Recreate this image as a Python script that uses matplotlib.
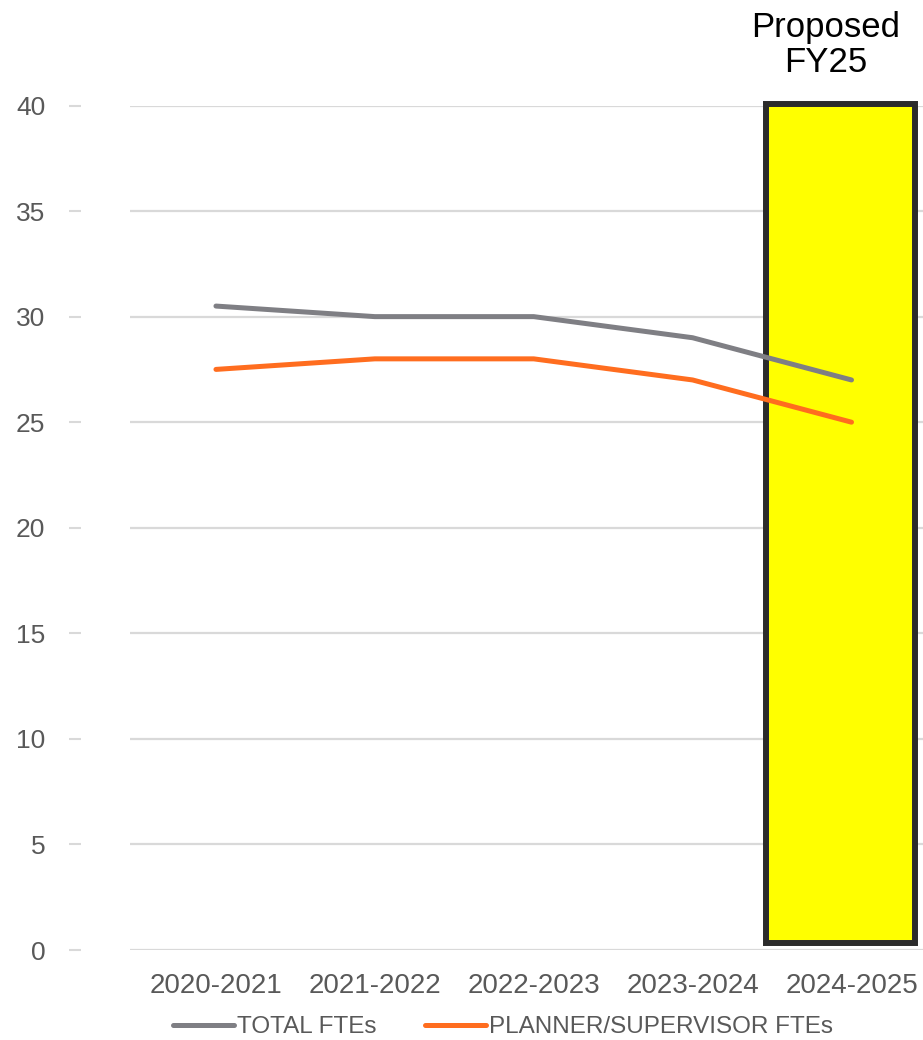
import matplotlib
matplotlib.use('Agg')
import matplotlib.pyplot as plt
from matplotlib.patches import Rectangle

plt.rcParams['font.family'] = ['Liberation Sans', 'DejaVu Sans']

# data
years = ['2020-2021', '2021-2022', '2022-2023', '2023-2024', '2024-2025']
total_ftes = [30.5, 30, 30, 29, 27]
planner_ftes = [27.5, 28, 28, 27, 25]
highlight_year = '2024-2025'
highlight_text = 'Proposed\nFY25'

W, H = 923, 1040
fig = plt.figure(figsize=(W / 100, H / 100), dpi=100)
ax = fig.add_axes([130 / W, 1 - 950 / H, 793 / W, 844.5 / H])

x = list(range(len(years)))
ax.plot(x, total_ftes, color='#7f7f84', lw=3.6, solid_capstyle='round',
        zorder=3, label='TOTAL FTEs')
ax.plot(x, planner_ftes, color='#ff6d1f', lw=3.6, solid_capstyle='round',
        zorder=3, label='PLANNER/SUPERVISOR FTEs')

ax.set_xlim(-0.541, 4.45)
ax.set_ylim(0, 40)
ax.set_xticks(x)
ax.set_xticklabels(years)
ax.set_yticks(range(0, 41, 5))

ax.set_axisbelow(True)
ax.grid(axis='y', color='#d9d9d9', lw=1.6)
for s in ['top', 'right', 'bottom']:
    ax.spines[s].set_visible(False)
# value ticks sit apart from the grid, as in the original
ax.spines['left'].set_position(('outward', 35.3))
ax.spines['left'].set_visible(False)

ax.tick_params(axis='y', length=8.6, width=1.5, color='#d9d9d9', pad=17,
               labelsize=19, labelcolor='#595959')
ax.tick_params(axis='x', length=0, pad=16.5, labelsize=20, labelcolor='#595959')

# yellow highlight box round the proposed year
hx = years.index(highlight_year)
box = Rectangle((hx - 0.539, 0.35), 0.941, 39.72, facecolor='#ffff00',
                edgecolor='#2b2b2b', lw=4.3, clip_on=False, zorder=2)
ax.add_patch(box)
ax.text(hx - 0.16, 41.25, highlight_text, ha='center', va='bottom',
        fontsize=25, color='black', linespacing=1.1, clip_on=False)

fig.legend(loc='center', bbox_to_anchor=(503 / W, 1 - 1027 / H), ncol=2,
           frameon=False, fontsize=17.5, labelcolor='#595959',
           handlelength=2.5, handletextpad=0.12, columnspacing=2.0)

fig.savefig('out.png', dpi=100)
